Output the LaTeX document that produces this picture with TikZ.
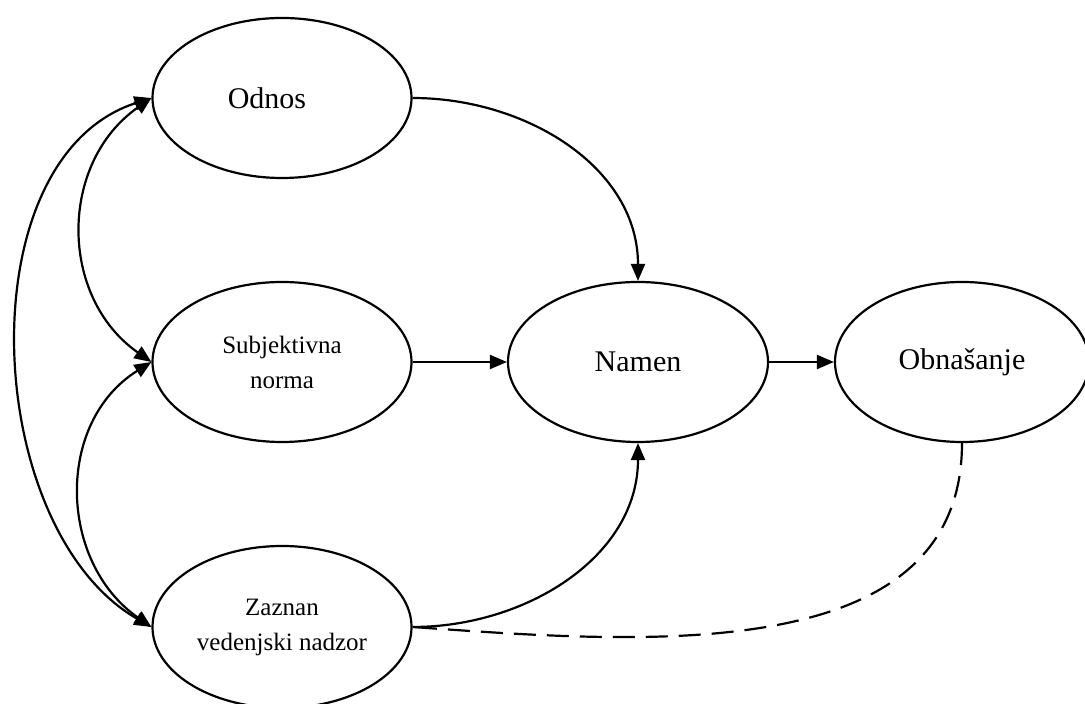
\documentclass[tikz,border=0pt]{standalone}
\usepackage{fontspec}
\setmainfont{Liberation Serif}
\usepackage{tikz}
\usetikzlibrary{arrows.meta,shapes.geometric}

\begin{document}
\begin{tikzpicture}[
			x=1pt,y=1pt,
			>={Triangle[length=17pt,width=14pt]},
			construct/.style={
				ellipse,
				draw,
				line width=2.2pt,
				inner sep=0pt,
				minimum width=259pt,
				minimum height=160pt,
				align=center,
				font=\fontsize{30}{36}\selectfont
			},
			twoline/.style={
				font=\fontsize{25}{35}\selectfont
			},
			link/.style={
				line width=2.2pt,
				->
			}
			]
			\useasboundingbox (0,0) rectangle (1085,704);
			\node[construct] (odnos) at (282,606) {\hspace*{-30pt}Odnos};
			\node[construct,twoline] (subj) at (282,342) {Subjektivna\\norma};
			\node[construct,twoline,minimum height=162pt] (zaznan) at (282,77) {Zaznan\\vedenjski nadzor};
			\node[construct,minimum width=260pt] (namen) at (638,342) {Namen};
			\node[construct,minimum width=254pt] (obn) at (962,342) {Obna\v{s}anje};
			% correlations on the left
			\draw[link,<->] (odnos.west) to[out=198,in=150,looseness=0.95] (zaznan.west);
			\draw[link,<->] (odnos.west) to[out=215,in=145,looseness=1.1] (subj.west);
			\draw[link,<->] (subj.west) to[out=212,in=145,looseness=1.1] (zaznan.west);
			% paths to intention and behaviour
			\draw[link] (odnos.east) to[out=0,in=90] (namen.north);
			\draw[link] (subj.east) -- (namen.west);
			\draw[link] (zaznan.east) to[out=0,in=-90] (namen.south);
			\draw[link] (namen.east) -- (obn.west);
			\draw[line width=2.2pt,dash pattern=on 22pt off 11pt] (obn.south) to[out=-90,in=-4] (zaznan.east);
		\end{tikzpicture}
\end{document}
